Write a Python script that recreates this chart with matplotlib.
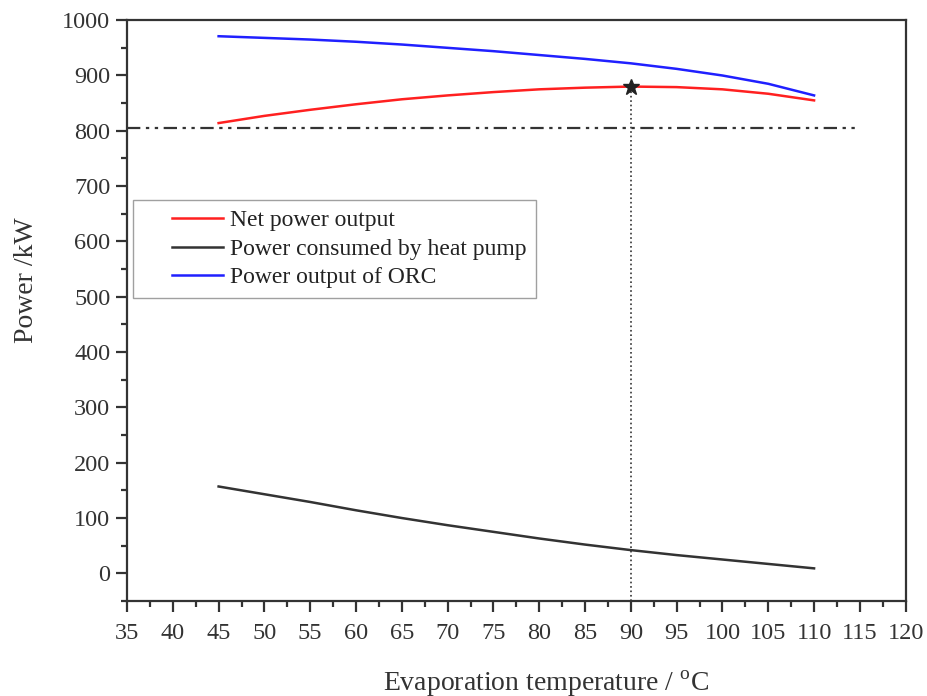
import matplotlib
matplotlib.use("Agg")
import matplotlib.pyplot as plt
import numpy as np
from matplotlib.ticker import MultipleLocator
from matplotlib.legend_handler import HandlerLine2D

plt.rcParams['font.family'] = ['Liberation Serif', 'DejaVu Serif']
plt.rcParams['mathtext.fontset'] = 'custom'
plt.rcParams['mathtext.rm'] = 'Liberation Serif'

# evaporation temperature (C)
temps = [45, 50, 55, 60, 65, 70, 75, 80, 85, 90, 95, 100, 105, 110]
# power values (kW)
net_power = [814, 827, 838, 848, 857, 864, 870, 875, 878, 880, 879, 875, 867, 855]
hp_power = [157, 143, 129, 114, 100, 87, 75, 63, 52, 42, 33, 25, 17, 9]
orc_power = [971, 968, 965, 961, 956, 950, 944, 937, 930, 922, 912, 900, 885, 864]

opt_temp = 90
opt_power = 880
ref_power = 805


class IndentedLine(HandlerLine2D):
    # legend line drawn only on the right part of the handle box
    def create_artists(self, legend, orig_handle, xdescent, ydescent,
                       width, height, fontsize, trans):
        arts = super().create_artists(legend, orig_handle, xdescent, ydescent,
                                      width, height, fontsize, trans)
        for a in arts:
            xd = np.asarray(a.get_xdata(), dtype=float)
            if len(xd) >= 2:
                x0 = xd[0] + 0.36 * (xd[-1] - xd[0])
                a.set_xdata(np.linspace(x0, xd[-1], len(xd)))
        return arts


fig = plt.figure(figsize=(9.27, 6.96), dpi=100)
ax = fig.add_axes([0.137, 0.1365, 0.840, 0.8345])

ax.plot(temps, net_power, color='#ff2020', lw=1.8, label='Net power output')
ax.plot(temps, hp_power, color='#333333', lw=1.8, label='Power consumed by heat pump')
ax.plot(temps, orc_power, color='#2020ff', lw=1.8, label='Power output of ORC')

# reference line and optimum point
ax.plot([35, 115], [ref_power, ref_power], color='#333333', lw=1.6,
        dashes=[6, 2.5, 1.5, 2.5, 1.5, 2.5])
ax.plot([opt_temp, opt_temp], [-50, opt_power], color='#333333', lw=1.2, ls=':')
ax.plot([opt_temp], [opt_power], marker='*', color='#222222', ms=12, ls='none')

ax.set_xlim(35, 120)
ax.set_ylim(-50, 1000)
ax.xaxis.set_major_locator(MultipleLocator(5))
ax.xaxis.set_minor_locator(MultipleLocator(2.5))
ax.yaxis.set_major_locator(MultipleLocator(100))
ax.yaxis.set_minor_locator(MultipleLocator(50))
ax.set_yticks(range(0, 1001, 100))

for s in ax.spines.values():
    s.set_linewidth(1.6)
    s.set_color('#333333')
ax.tick_params(which='major', direction='out', length=8, width=1.6,
               labelsize=17.5, colors='#333333', labelcolor='#333333')
ax.tick_params(which='minor', direction='out', length=4.5, width=1.6, colors='#333333')
ax.tick_params(axis='x', which='major', pad=8)
ax.tick_params(axis='y', which='major', pad=4)

ax.set_xlabel('Evaporation temperature / $^{\\mathrm{o}}$C', fontsize=20, color='#333333')
ax.set_ylabel('Power /kW', fontsize=20, color='#333333')
ax.xaxis.set_label_coords(0.538, -0.117)
ax.yaxis.set_label_coords(-0.113, 0.552)

leg = ax.legend(loc='upper left', bbox_to_anchor=(0.008, 0.690), fontsize=17,
                frameon=True, fancybox=False, edgecolor='#888888',
                handlelength=3.4, handletextpad=0.3, borderpad=0.4,
                labelspacing=0.3, borderaxespad=0,
                handler_map={plt.Line2D: IndentedLine()})
leg.get_frame().set_linewidth(1.0)
for t in leg.get_texts():
    t.set_color('#222222')

plt.savefig('out.png')
